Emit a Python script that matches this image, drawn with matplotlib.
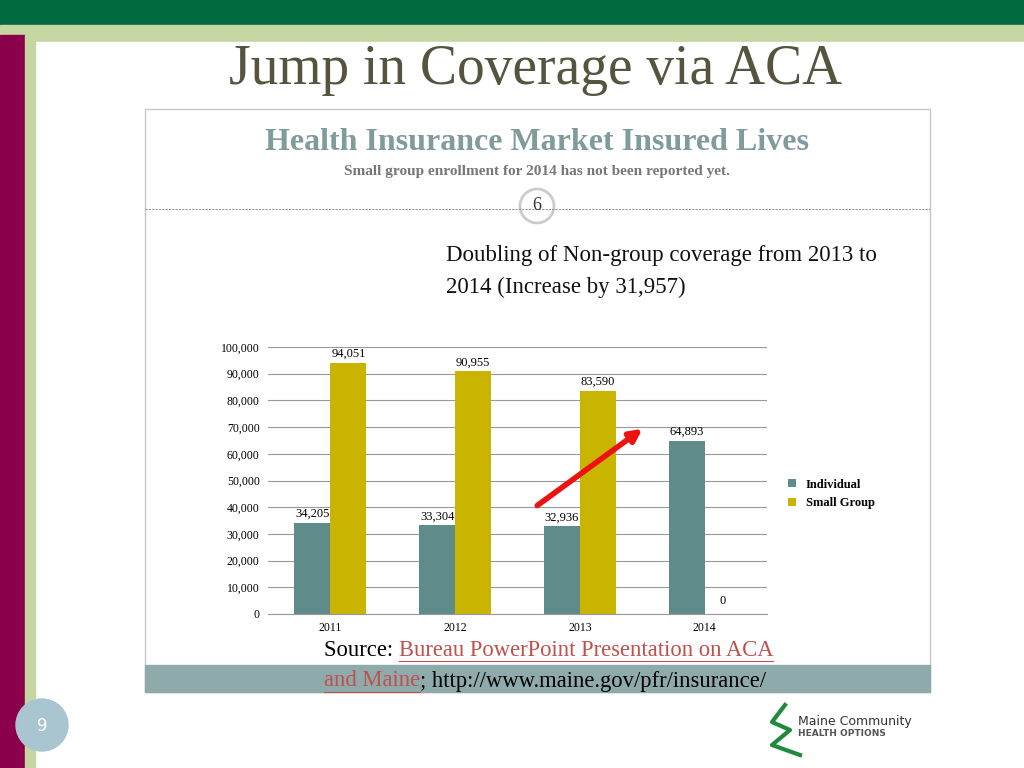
import matplotlib.pyplot as plt
from matplotlib.patches import Rectangle, Circle
from matplotlib.lines import Line2D

years = ['2011', '2012', '2013', '2014']
individual = [34205, 33304, 32936, 64893]
small_group = [94051, 90955, 83590, 0]
y_ticks = [0, 10000, 20000, 30000, 40000, 50000, 60000, 70000, 80000, 90000, 100000]

W, H = 1024, 768
fig = plt.figure(figsize=(W / 100, H / 100), dpi=100)
bg = fig.add_axes([0, 0, 1, 1])
bg.set_xlim(0, W)
bg.set_ylim(H, 0)
bg.axis('off')
renderer = fig.canvas.get_renderer()

# slide frame
bg.add_patch(Rectangle((0, 0), W, 25, color='#006B3F'))
bg.add_patch(Rectangle((0, 25), W, H - 25, color='#C6D6A2'))
bg.add_patch(Rectangle((35, 42), W - 35, H - 42, color='white'))
bg.add_patch(Rectangle((0, 35), 25, H - 35, color='#8A004A'))
bg.add_patch(Rectangle((25, 35), 10, H - 35, color='#C6D6A2'))

bg.text(536, 70, 'Jump in Coverage via ACA', ha='center', va='center',
        family='Liberation Serif', fontsize=40, color='#55553f')

# embedded image box
bg.add_patch(Rectangle((145, 109), 785, 583, fill=False, ec='#c8c8c8', lw=1))
bg.text(537, 143, 'Health Insurance Market Insured Lives', ha='center', va='center',
        family='Liberation Serif', fontsize=23, weight='bold', color='#7f9b9b')
bg.text(537, 171, 'Small group enrollment for 2014 has not been reported yet.',
        ha='center', va='center', family='Liberation Serif', fontsize=11,
        weight='bold', color='#777777')
bg.add_line(Line2D([145, 930], [209, 209], color='#999999', lw=0.8, ls=(0, (2, 1))))
bg.add_patch(Circle((537, 206), 17, fc='white', ec='#cccccc', lw=2))
bg.text(537, 206, '6', ha='center', va='center', family='Liberation Serif',
        fontsize=13, color='#333333')

bg.text(446, 256, 'Doubling of Non-group coverage from 2013 to', va='center',
        family='Liberation Serif', fontsize=16.5, color='#111111')
bg.text(446, 287, '2014 (Increase by 31,957)', va='center',
        family='Liberation Serif', fontsize=16.5, color='#111111')

# source band
bg.add_patch(Rectangle((145, 665), 785, 27, color='#8FAAAB'))


def run_text(x, y, parts):
    for txt, col, ul in parts:
        t = bg.text(x, y, txt, va='center', family='Liberation Serif',
                    fontsize=16.3, color=col)
        ext = t.get_window_extent(renderer)
        if ul:
            bg.add_line(Line2D([x, x + ext.width], [y + 11, y + 11], color=col, lw=0.8))
        x += ext.width


run_text(324, 650, [('Source: ', 'black', False),
                    ('Bureau PowerPoint Presentation on ACA', '#C0504D', True)])
run_text(324, 681, [('and Maine', '#C0504D', True),
                    ('; http://www.maine.gov/pfr/insurance/', 'black', False)])

# page number and logo
bg.add_patch(Circle((42, 725), 26, color='#A9C5D0'))
bg.text(42, 726, '9', ha='center', va='center', fontsize=12, color='white')
bg.add_line(Line2D([785, 772, 790, 772, 800], [705, 722, 730, 745, 755],
                   color='#1f8a3c', lw=3))
bg.text(798, 721, 'Maine Community', va='center', fontsize=9, color='#333333')
bg.text(798, 733, 'HEALTH OPTIONS', va='center', fontsize=6.5, weight='bold',
        color='#555555')

# chart
x0, x1, y0, y1 = 268, 767, 347, 614
ax = fig.add_axes([x0 / W, 1 - y1 / H, (x1 - x0) / W, (y1 - y0) / H])
pos = list(range(len(years)))
bw = 0.288
ax.bar([p - bw / 2 for p in pos], individual, bw, color='#5F8B8B', label='Individual')
ax.bar([p + bw / 2 for p in pos], small_group, bw, color='#C9B400', label='Small Group')
for p, v in zip(pos, individual):
    ax.text(p - bw / 2, v + 1000, f'{v:,}', ha='center', va='bottom',
            family='Liberation Serif', fontsize=9)
for p, v in zip(pos, small_group):
    ax.text(p + bw / 2, v + 1000 if v else 2500, f'{v:,}', ha='center', va='bottom',
            family='Liberation Serif', fontsize=9)
ax.set_xlim(-0.5, 3.5)
ax.set_ylim(0, 100000)
ax.set_yticks(y_ticks)
ax.set_yticklabels([f'{t:,}' for t in y_ticks], family='Liberation Serif', fontsize=8.5)
ax.set_xticks(pos)
ax.set_xticklabels(years, family='Liberation Serif', fontsize=8.5)
ax.tick_params(length=0, pad=6)
ax.grid(axis='y', color='#999999', lw=0.8)
ax.set_axisbelow(True)
for s in ['top', 'right', 'left']:
    ax.spines[s].set_visible(False)
ax.spines['bottom'].set_color('#999999')
ax.annotate('', xy=(2.52, 70000), xytext=(1.64, 40000),
            arrowprops=dict(arrowstyle='-|>', color='#EE1111', lw=4, mutation_scale=18))
ax.legend(loc='center left', bbox_to_anchor=(1.02, 0.45), frameon=False,
          prop={'family': 'Liberation Serif', 'size': 9, 'weight': 'bold'},
          handlelength=0.6, handleheight=0.6)

fig.savefig('out.png', dpi=100)
